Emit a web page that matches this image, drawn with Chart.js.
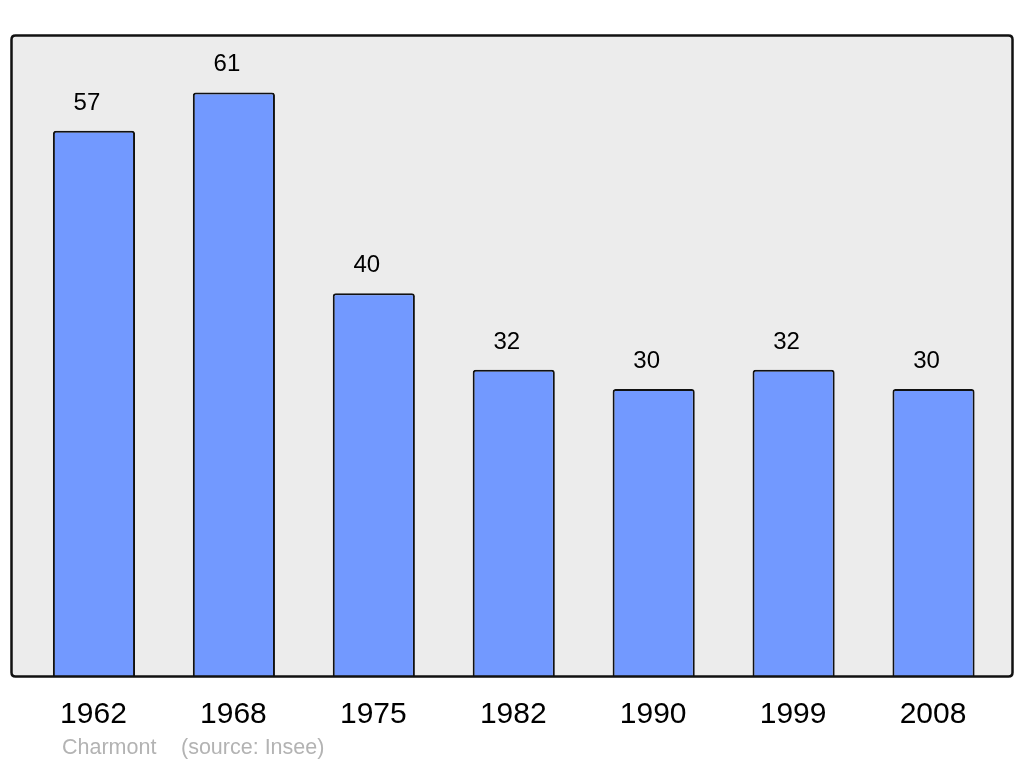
<!DOCTYPE html>
<html>
<head>
<meta charset="utf-8">
<script src="https://cdn.jsdelivr.net/npm/chart.js@4"></script>
<style>
  html, body { margin: 0; padding: 0; background: #fff; }
  #wrap { width: 1024px; height: 765px; }
</style>
</head>
<body>
<div id="wrap"><canvas id="popChart" width="1024" height="765"></canvas></div>
<script>
// data
const years = ["1962", "1968", "1975", "1982", "1990", "1999", "2008"];
const population = [57, 61, 40, 32, 30, 32, 30];
const commune = "Charmont";
const sourceNote = "(source: Insee)";

const FONT = "'Liberation Sans', Arial, sans-serif";

function roundRect(ctx, x, y, w, h, r) {
  ctx.beginPath();
  ctx.moveTo(x + r, y);
  ctx.lineTo(x + w - r, y);
  ctx.quadraticCurveTo(x + w, y, x + w, y + r);
  ctx.lineTo(x + w, y + h - r);
  ctx.quadraticCurveTo(x + w, y + h, x + w - r, y + h);
  ctx.lineTo(x + r, y + h);
  ctx.quadraticCurveTo(x, y + h, x, y + h - r);
  ctx.lineTo(x, y + r);
  ctx.quadraticCurveTo(x, y, x + r, y);
  ctx.closePath();
}

// grey panel behind the bars
const panelPlugin = {
  id: "panel",
  beforeDatasetsDraw(chart) {
    const ctx = chart.ctx;
    const { top, bottom } = chart.chartArea;
    ctx.save();
    roundRect(ctx, 11.5, top + 0.5, 1001, bottom - top, 4);
    ctx.fillStyle = "#ececec";
    ctx.fill();
    ctx.restore();
  },
  afterDatasetsDraw(chart) {
    const ctx = chart.ctx;
    const { top, bottom } = chart.chartArea;
    ctx.save();
    roundRect(ctx, 11.5, top + 0.5, 1001, bottom - top, 4);
    ctx.lineWidth = 2.5;
    ctx.strokeStyle = "#111";
    ctx.stroke();
    ctx.restore();
  }
};

// value labels, year labels and source line
const labelsPlugin = {
  id: "labels",
  afterDraw(chart) {
    const ctx = chart.ctx;
    const meta = chart.getDatasetMeta(0);
    const xScale = chart.scales.x;
    ctx.save();
    ctx.fillStyle = "#000";
    ctx.textAlign = "center";
    ctx.textBaseline = "alphabetic";
    ctx.font = "24px " + FONT;
    meta.data.forEach((bar, i) => {
      ctx.fillText(String(population[i]), bar.x - 7, bar.y - 21);
    });
    ctx.font = "30px " + FONT;
    years.forEach((y, i) => {
      ctx.fillText(y, xScale.getPixelForTick(i) - 0.5, 722.5);
    });
    ctx.textAlign = "left";
    ctx.fillStyle = "#b3b3b3";
    ctx.font = "21.5px " + FONT;
    ctx.fillText(commune, 62, 754);
    ctx.fillText(sourceNote, 181, 754);
    ctx.restore();
  }
};

new Chart(document.getElementById("popChart"), {
  type: "bar",
  data: {
    labels: years,
    datasets: [{
      data: population,
      backgroundColor: "#7299ff",
      borderColor: "#111",
      borderWidth: 2,
      borderRadius: 3,
      barPercentage: 0.587,
      categoryPercentage: 1
    }]
  },
  options: {
    responsive: false,
    animation: false,
    layout: { padding: { left: 24, right: 20.5, top: 35, bottom: 89 } },
    plugins: { legend: { display: false }, tooltip: { enabled: false } },
    scales: {
      x: { display: false },
      y: { display: false, min: 0, max: 67.0 }
    }
  },
  plugins: [panelPlugin, labelsPlugin]
});
</script>
</body>
</html>
